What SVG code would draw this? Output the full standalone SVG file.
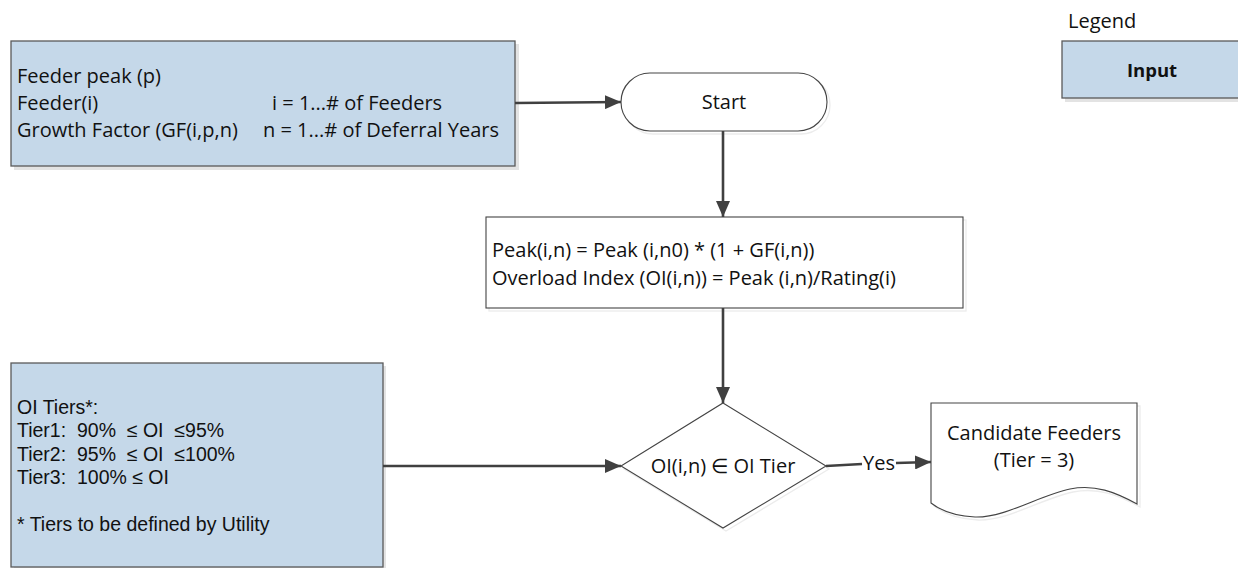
<svg xmlns="http://www.w3.org/2000/svg" width="1238" height="568" viewBox="0 0 1238 568">
<defs>
<marker id="ah" viewBox="0 0 16 14" refX="16" refY="7" markerWidth="16" markerHeight="14" orient="auto" markerUnits="userSpaceOnUse">
<path d="M0,0 L16,7 L0,14 Z" fill="#404040"/>
</marker>
<style>
text{font-family:"Open Sans","Liberation Sans",sans-serif;font-size:20px;fill:#111}
text.t{font-family:"Liberation Sans",sans-serif;font-size:19.5px}
.inp{fill:#C5D8E9;stroke:#5a5a5a;stroke-width:1.3}
.sh{fill:#e3e3e3}
.shl{fill:none;stroke:#ececec;stroke-width:1.3}
.wt{fill:#fff;stroke:#444;stroke-width:1.1}
.c{stroke:#404040;stroke-width:2.6;fill:none}
.m{text-anchor:middle}
</style>
</defs>
<g id="input-feeder">
<rect class="sh" x="14" y="44" width="505" height="126"/>
<rect class="inp" x="11" y="41" width="504" height="125"/>
<text x="17" y="83">Feeder peak (p)</text>
<text x="17" y="110">Feeder(i)</text>
<text x="272" y="110">i = 1...# of Feeders</text>
<text x="17" y="137">Growth Factor (GF(i,p,n)</text>
<text x="263" y="137">n = 1...# of Deferral Years</text>
</g>
<g id="start">
<rect class="shl" x="624" y="76" width="206" height="58" rx="29"/>
<rect class="wt" x="621" y="73" width="206" height="58" rx="29"/>
<text class="m" x="724" y="109">Start</text>
</g>
<g id="process">
<rect class="shl" x="489" y="220" width="477" height="91"/>
<rect class="wt" x="486" y="217" width="477" height="91"/>
<text x="492" y="257">Peak(i,n) = Peak (i,n0) * (1 + GF(i,n))</text>
<text x="492" y="285">Overload Index (OI(i,n)) = Peak (i,n)/Rating(i)</text>
</g>
<g id="input-tiers">
<rect class="sh" x="14" y="366" width="372" height="205"/>
<rect class="inp" x="11" y="363" width="372" height="204"/>
<text class="t" x="17" y="414">OI Tiers*:</text>
<text class="t" x="17" y="437" xml:space="preserve">Tier1:  90%  ≤ OI  ≤95%</text>
<text class="t" x="17" y="461" xml:space="preserve">Tier2:  95%  ≤ OI  ≤100%</text>
<text class="t" x="17" y="484" xml:space="preserve">Tier3:  100% ≤ OI</text>
<text class="t" x="17" y="531">* Tiers to be defined by Utility</text>
</g>
<g id="decision">
<polygon class="shl" points="726,406 829,469 726,531 624,469"/>
<polygon class="wt" points="723,403 826,466 723,528 621,466"/>
<text class="m" x="723" y="473">OI(i,n) ∈  OI Tier</text>
</g>
<g id="output">
<path class="shl" d="M934,406 H1140 V507 C1118,495 1098,487 1073,492 C1043,498 1008,521 978,520 C958,519 943,513 934,506 Z"/>
<path class="wt" d="M931,403 H1137 V504 C1115,492 1095,484 1070,489 C1040,495 1005,518 975,517 C955,516 940,510 931,503 Z"/>
<text class="m" x="1034" y="440">Candidate Feeders</text>
<text class="m" x="1034" y="467">(Tier = 3)</text>
</g>
<g id="legend">
<text x="1068" y="28">Legend</text>
<rect class="sh" x="1065" y="44" width="180" height="58"/>
<rect class="inp" x="1062" y="41" width="180" height="57"/>
<text class="m" x="1152" y="77" style="font-weight:bold;font-size:18.5px">Input</text>
</g>
<g id="connectors">
<line class="c" x1="515" y1="103" x2="621" y2="102" marker-end="url(#ah)"/>
<line class="c" x1="723" y1="131" x2="723" y2="217" marker-end="url(#ah)"/>
<line class="c" x1="723" y1="308" x2="723" y2="403" marker-end="url(#ah)"/>
<line class="c" x1="383" y1="466" x2="621" y2="466" marker-end="url(#ah)"/>
<line class="c" x1="826" y1="466" x2="862" y2="464"/>
<line class="c" x1="896" y1="463" x2="931" y2="462" marker-end="url(#ah)"/>
<text class="m" x="879" y="470">Yes</text>
</g>
</svg>
